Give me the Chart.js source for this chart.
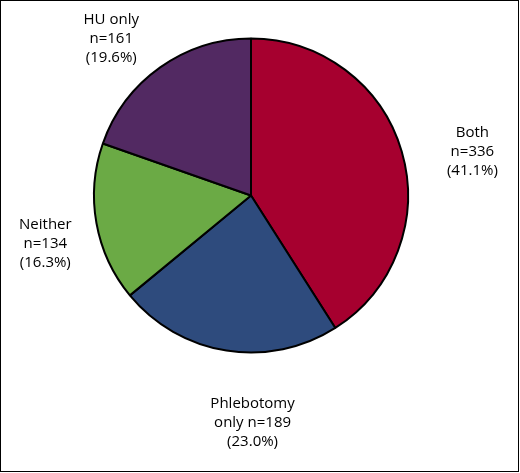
<!DOCTYPE html>
<html><head><meta charset="utf-8">
<script src="https://cdn.jsdelivr.net/npm/chart.js@4"></script>
<style>
html,body{margin:0;padding:0;background:#fff;}
#wrap{position:absolute;left:0;top:0;width:517px;height:470px;border:1.5px solid #000;}
</style></head>
<body><div id="wrap"><canvas id="c" width="517" height="470"></canvas></div>
<script>
const categories = ["Both", "Phlebotomy only", "Neither", "HU only"];
const counts = [336, 189, 134, 161];
const percents = ["41.1%", "23.0%", "16.3%", "19.6%"];
const colors = ["#A6002F", "#2E4B7D", "#6BAA45", "#522962"];
const labelLines = [
  ["Both", "n=336", "(41.1%)"],
  ["Phlebotomy", "only n=189", "(23.0%)"],
  ["Neither", "n=134", "(16.3%)"],
  ["HU only", "n=161", "(19.6%)"]
];
// label anchor offsets relative to pie centre (in units of radius)
const labelOffsets = [[1.41, -0.28], [0.01, 1.45], [-1.31, 0.31], [-0.89, -1.0]];

const labelPlugin = {
  id: 'labels',
  afterDraw(chart) {
    const arc = chart.getDatasetMeta(0).data[0];
    const cx = arc.x, cy = arc.y, r = arc.outerRadius;
    const ctx = chart.ctx;
    ctx.save();
    ctx.fillStyle = '#000';
    ctx.font = '15px "Open Sans", sans-serif';
    ctx.textAlign = 'center';
    ctx.textBaseline = 'middle';
    labelLines.forEach((lines, i) => {
      const x = cx + labelOffsets[i][0] * r;
      const y = cy + labelOffsets[i][1] * r;
      lines.forEach((t, j) => ctx.fillText(t, x, y + (j - 1) * 19));
    });
    ctx.restore();
  }
};

new Chart(document.getElementById('c'), {
  type: 'pie',
  data: { labels: categories, datasets: [{ data: counts, backgroundColor: colors, borderColor: '#000', borderWidth: 2 }] },
  options: {
    responsive: false, animation: false,
    layout: { padding: { top: 36, bottom: 117, left: 92, right: 109 } },
    plugins: { legend: { display: false }, tooltip: { enabled: false } }
  },
  plugins: [labelPlugin]
});
</script></body></html>
